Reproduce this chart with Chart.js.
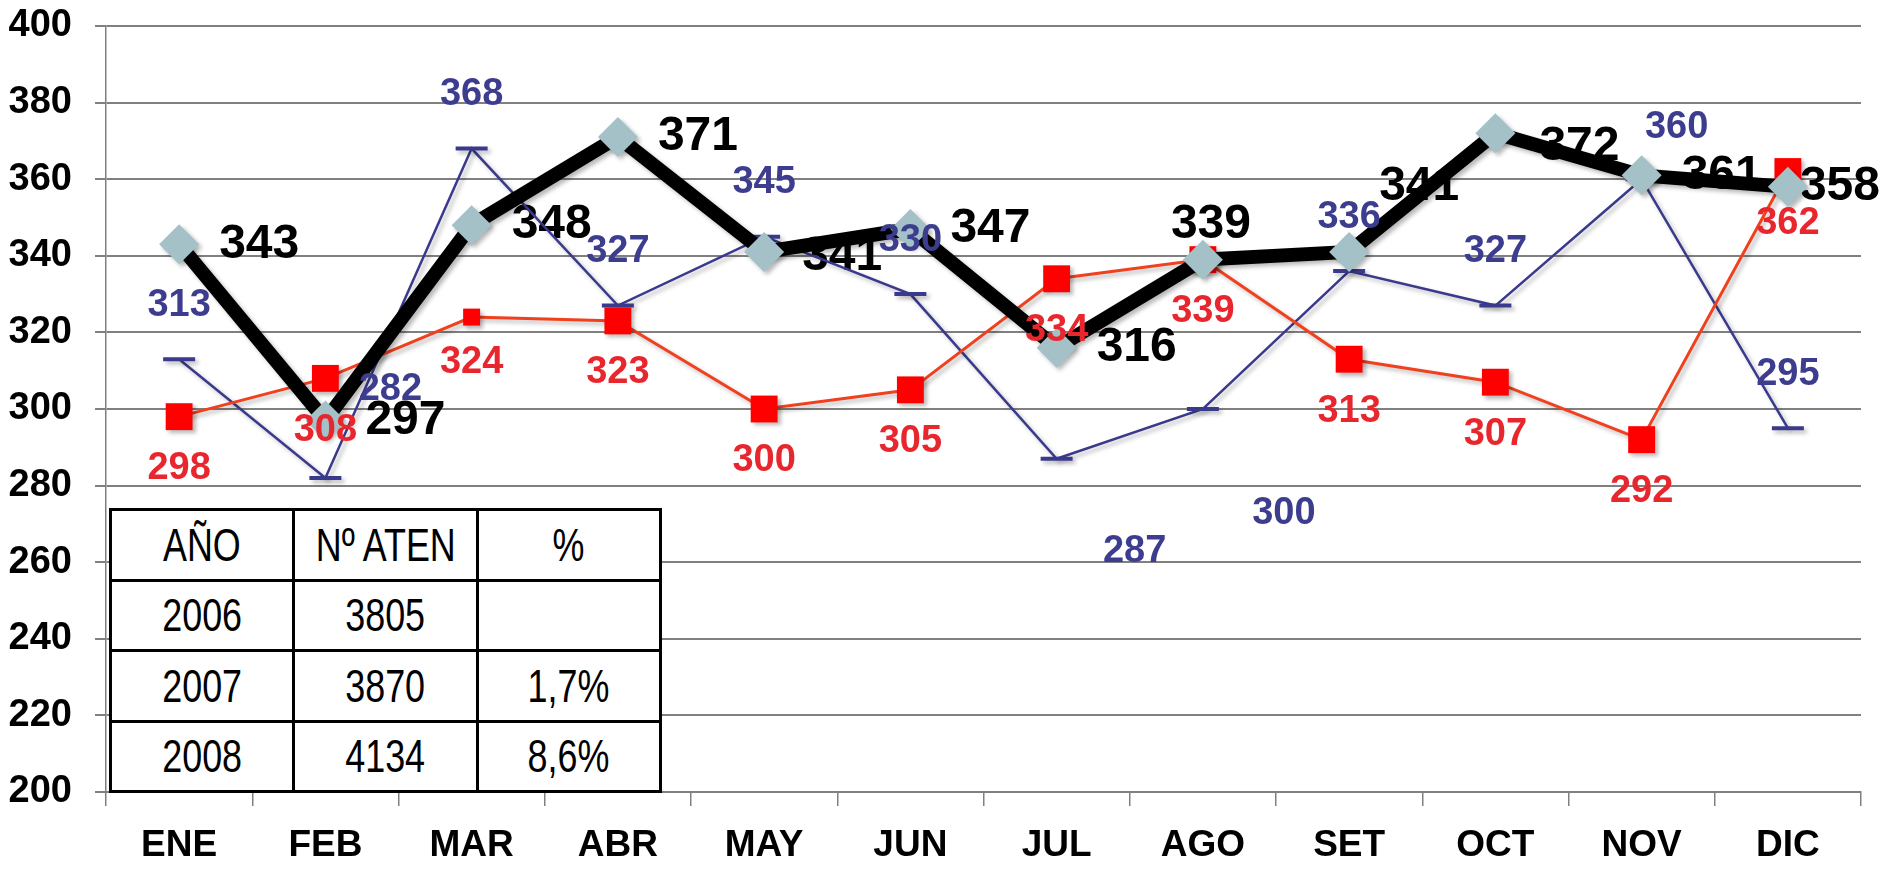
<!DOCTYPE html>
<html>
<head>
<meta charset="utf-8">
<script src="https://cdn.jsdelivr.net/npm/chart.js@4.4.0/dist/chart.umd.min.js"></script>
<style>
    html, body { margin: 0; padding: 0; background: #fff; }
    #wrap { position: relative; width: 1898px; height: 873px; }
    #tabla {
        position: absolute; left: 109px; top: 508px; width: 553px; height: 285px;
        border-collapse: collapse; background: #fff; table-layout: fixed;
        font-family: 'Liberation Sans', Arial, sans-serif;
        font-size: 46px; color: #000;
    }
    #tabla td { border: 3px solid #000; text-align: center; padding: 0; overflow: hidden; }
    #tabla td span { display: inline-block; transform: scaleX(0.78); white-space: nowrap; }
</style>
</head>
<body>
<div id="wrap">
    <canvas id="chart" width="1898" height="873"></canvas>
    <table id="tabla"></table>
</div>
<script>
const meses = ['ENE', 'FEB', 'MAR', 'ABR', 'MAY', 'JUN', 'JUL', 'AGO', 'SET', 'OCT', 'NOV', 'DIC'];
const aten2008 = [343, 297, 348, 371, 341, 347, 316, 339, 341, 372, 361, 358];
const aten2006 = [298, 308, 324, 323, 300, 305, 334, 339, 313, 307, 292, 362];
const aten2007 = [313, 282, 368, 327, 345, 330, 287, 300, 336, 327, 360, 295];

const yMin = 200, yMax = 400, yStep = 20;

const tablaCabecera = ['AÑO', 'Nº ATEN', '%'];
const tablaAnios = ['2006', '2007', '2008'];
const tablaTotales = ['3805', '3870', '4134'];
const tablaPorcentaje = ['', '1,7%', '8,6%'];

// table
const celda = t => `<td><span>${t}</span></td>`;
let html = '<tr>' + tablaCabecera.map(celda).join('') + '</tr>';
tablaAnios.forEach((a, i) => {
    html += '<tr>' + [a, tablaTotales[i], tablaPorcentaje[i]].map(celda).join('') + '</tr>';
});
document.getElementById('tabla').innerHTML = html;

// where the value labels sit, relative to each point
const etiquetas = [
    { font: 'bold 48px "Liberation Sans", Arial, sans-serif', color: '#000', align: 'left', before: true,
      dx: 40, dy: 0, extra: { 4: [38, 5], 7: [-32, -35], 8: [30, -65], 9: [44, 14], 11: [12, 0] } },
    { font: 'bold 38px "Liberation Sans", Arial, sans-serif', color: '#e8262e', align: 'center', before: false,
      dx: 0, dy: 52, extra: { 2: [0, 45] } },
    { font: 'bold 38px "Liberation Sans", Arial, sans-serif', color: '#3d3d8f', align: 'center', before: false,
      dx: 0, dy: -54, extra: { 1: [65, -88], 6: [78, 93], 7: [81, 105], 10: [35, -52] } }
];

function dibujarEtiquetas(chart, antes) {
    const ctx = chart.ctx;
    chart.data.datasets.forEach((ds, i) => {
        const cfg = etiquetas[i];
        if (cfg.before !== antes) return;
        const meta = chart.getDatasetMeta(i);
        ctx.save();
        ctx.font = cfg.font;
        ctx.fillStyle = cfg.color;
        ctx.textAlign = cfg.align;
        ctx.textBaseline = 'middle';
        meta.data.forEach((pt, j) => {
            const off = cfg.extra[j] || [cfg.dx, cfg.dy];
            ctx.fillText(String(ds.data[j]), pt.x + off[0], pt.y + off[1]);
        });
        ctx.restore();
    });
}

const etiquetasPlugin = {
    id: 'etiquetas',
    beforeDatasetsDraw(chart) { dibujarEtiquetas(chart, true); },
    afterDatasetsDraw(chart) { dibujarEtiquetas(chart, false); }
};

const sombraPlugin = {
    id: 'sombra',
    beforeDatasetDraw(chart) {
        const ctx = chart.ctx;
        ctx.save();
        ctx.shadowColor = 'rgba(0,0,0,0.28)';
        ctx.shadowBlur = 4;
        ctx.shadowOffsetX = 3;
        ctx.shadowOffsetY = 3;
    },
    afterDatasetDraw(chart) { chart.ctx.restore(); }
};

const fuenteY = { family: '"Liberation Sans", Arial, sans-serif', weight: 'bold', size: 38 };
const fuenteX = { family: '"Liberation Sans", Arial, sans-serif', weight: 'bold', size: 37 };

new Chart(document.getElementById('chart').getContext('2d'), {
    type: 'line',
    data: {
        labels: meses,
        datasets: [
            {
                label: '2008',
                data: aten2008,
                borderColor: '#000',
                borderWidth: 14,
                pointStyle: 'rectRot',
                pointRadius: 20,
                pointBackgroundColor: '#a3c1c6',
                pointBorderColor: '#a3c1c6',
                pointBorderWidth: 0
            },
            {
                label: '2006',
                data: aten2006,
                borderColor: '#f0401e',
                borderWidth: 3,
                pointStyle: 'rect',
                pointRadius: c => c.dataIndex === 2 ? 12 : 19,
                pointBackgroundColor: '#ff0000',
                pointBorderColor: '#ff0000',
                pointBorderWidth: 0
            },
            {
                label: '2007',
                data: aten2007,
                borderColor: '#3a3a8c',
                borderWidth: 2.5,
                pointStyle: 'line',
                pointRadius: 16,
                pointBorderColor: '#3a3a8c',
                pointBorderWidth: 4
            }
        ]
    },
    options: {
        responsive: false,
        animation: false,
        events: [],
        layout: { padding: { left: 0, right: 37, top: 26, bottom: 0 } },
        plugins: { legend: { display: false }, tooltip: { enabled: false } },
        scales: {
            x: {
                offset: true,
                afterFit: s => { s.height = 81; },
                grid: { offset: true, drawOnChartArea: false, color: '#808080', lineWidth: 1.5, tickLength: 14 },
                border: { color: '#808080', width: 2 },
                ticks: { font: fuenteX, color: '#000', padding: 18 }
            },
            y: {
                min: yMin,
                max: yMax,
                afterFit: s => { s.width = 106; s.paddingTop = 0; s.paddingBottom = 0; },
                grid: { color: '#808080', lineWidth: 2, tickLength: 11 },
                border: { color: '#808080', width: 1.5 },
                ticks: { stepSize: yStep, font: fuenteY, color: '#000', padding: 23 }
            }
        }
    },
    plugins: [sombraPlugin, etiquetasPlugin]
});
</script>
</body>
</html>
